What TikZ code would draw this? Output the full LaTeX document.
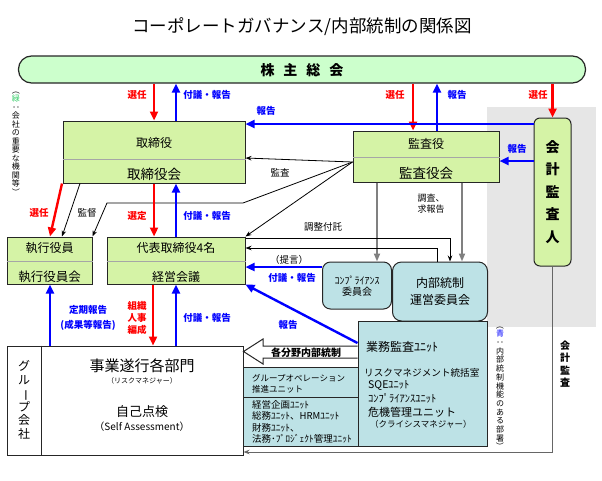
\documentclass[tikz,border=0pt]{standalone}
\usepackage{fontspec}
\setmainfont{Noto Sans CJK JP}
\usetikzlibrary{arrows.meta}

\definecolor{organgreen}{HTML}{D5F3A6}
\definecolor{meetinggreen}{HTML}{CCFFCC}
\definecolor{unitblue}{HTML}{BDE2E6}
\definecolor{bggray}{HTML}{E6E6E6}
\definecolor{reportblue}{HTML}{0000FF}
\definecolor{electred}{HTML}{FF0000}
\definecolor{notegreen}{HTML}{33CC66}

\newcommand{\vrot}[1]{\rotatebox[origin=c]{-90}{#1}}
\newcommand{\jpsize}[2]{\fontsize{#1}{#2}\selectfont}

\begin{document}
\begin{tikzpicture}[
    x=1pt, y=-1pt,
    organ/.style={draw=black!85, line width=1pt, fill=organgreen, inner sep=0pt},
    unitbox/.style={draw=black!85, line width=1pt, fill=unitblue, inner sep=0pt},
    divider/.style={draw=black!35, line width=0.6pt},
    txt/.style={inner sep=0pt},
    redarrow/.style={draw=electred, line width=2.4pt, -{Triangle[length=9pt,width=8pt]}},
    bluearrow/.style={draw=reportblue, line width=2.4pt, -{Triangle[length=9pt,width=8pt]}},
    grayarrow/.style={draw=black!50, line width=1.8pt, -{Triangle[length=8pt,width=6pt]}},
    thinarrow/.style={draw=black, line width=0.8pt, -{Stealth[length=6pt,width=4.5pt]}},
    redlabel/.style={txt, text=electred, font=\jpsize{9.5}{12}\bfseries},
    bluelabel/.style={txt, text=reportblue, font=\jpsize{9.5}{15}\bfseries},
    blacklabel/.style={txt, font=\jpsize{9.5}{11}}
  ]
  \useasboundingbox (0,0) rectangle (602,480);

  % background of the outside auditor
  \fill[bggray] (487,107) rectangle (596,327);

  \node[txt, font=\jpsize{17.5}{17.5}] (title) at (302,27) {コーポレートガバナンス/内部統制の関係図};

  % organs
  \node[organ, fill=meetinggreen, rounded corners=13pt, line width=1.2pt,
    minimum width=567pt, minimum height=27pt] (kabu) at (302,69.5) {};
  \node[txt, font=\jpsize{14}{14}\bfseries] (kabutext) at (302,70)
    {株\hspace{9pt}主\hspace{9pt}総\hspace{9pt}会};

  \node[organ, minimum width=182pt, minimum height=62pt] (tori) at (154,152) {};
  \draw[divider] (tori.west |- 0,159) -- (tori.east |- 0,159);
  \node[txt, font=\jpsize{12}{12}] (toritop) at (154,143) {取締役};
  \node[txt, font=\jpsize{13.5}{13.5}] (toribot) at (154,174) {取締役会};

  \node[organ, minimum width=146pt, minimum height=51pt] (kansa) at (426,156.5) {};
  \draw[divider] (kansa.west |- 0,157) -- (kansa.east |- 0,157);
  \node[txt, font=\jpsize{12}{12}] (kansatop) at (426,144) {監査役};
  \node[txt, font=\jpsize{13.5}{13.5}] (kansabot) at (426,173) {監査役会};

  \node[organ, rounded corners=6pt, minimum width=37pt, minimum height=148pt] (kaikei) at (552.5,192) {};
  \node[txt, font=\jpsize{14}{22.5}\bfseries, align=center] (kaikeitext) at (552.5,192)
    {会\\計\\監\\査\\人};

  \node[organ, minimum width=85pt, minimum height=47pt] (shikko) at (49.5,260.5) {};
  \draw[divider] (shikko.west |- 0,261) -- (shikko.east |- 0,261);
  \node[txt, font=\jpsize{12}{12}] (shikkotop) at (49.5,248) {執行役員};
  \node[txt, font=\jpsize{12.5}{12.5}] (shikkobot) at (49.5,277) {執行役員会};

  \node[organ, minimum width=138pt, minimum height=47pt] (daihyo) at (176,260.5) {};
  \draw[divider] (daihyo.west |- 0,261) -- (daihyo.east |- 0,261);
  \node[txt, font=\jpsize{12}{12}] (daihyotop) at (176,248) {代表取締役4名};
  \node[txt, font=\jpsize{12}{12}] (daihyobot) at (176,277) {経営会議};

  % committees and units
  \node[unitbox, rounded corners=8pt, minimum width=69pt, minimum height=47pt] (comp) at (357,285.5) {};
  \node[txt, font=\jpsize{10}{11}, align=center] (comptext) at (357,286.5) {ｺﾝﾌﾟﾗｲｱﾝｽ\\委員会};

  \node[unitbox, rounded corners=9pt, minimum width=95pt, minimum height=59pt] (naibu) at (440,291.5) {};
  \node[txt, font=\jpsize{12}{17}, align=center] (naibutext) at (440,291.5) {内部統制\\運営委員会};

  \node[unitbox, minimum width=129pt, minimum height=125pt] (gyomu) at (422.5,383.5) {};
  \node[txt, anchor=west, font=\jpsize{12}{12}] (gyomu1) at (366,347) {業務監査ﾕﾆｯﾄ};
  \node[txt, anchor=west, font=\jpsize{9.6}{9.6}] (gyomu2) at (364,373) {リスクマネジメント統括室};
  \node[txt, anchor=west, font=\jpsize{10.5}{10.5}] (gyomu3) at (368,385.5) {SQEﾕﾆｯﾄ};
  \node[txt, anchor=west, font=\jpsize{10.5}{10.5}] (gyomu4) at (368,398.5) {ｺﾝﾌﾟﾗｲｱﾝｽﾕﾆｯﾄ};
  \node[txt, anchor=west, font=\jpsize{11}{11}] (gyomu5) at (368,412) {危機管理ユニット};
  \node[txt, anchor=west, font=\jpsize{8.5}{8.5}] (gyomu6) at (370,424.5) {（クライシスマネジャー）};

  \node[unitbox, minimum width=115pt, minimum height=30pt] (groupop) at (300.5,382) {};
  \node[txt, anchor=west, font=\jpsize{8.5}{11}, align=left] (groupoptext) at (252,383.5)
    {グループオペレーション\\推進ユニット};

  \node[unitbox, minimum width=115pt, minimum height=49pt] (keiei) at (300.5,421.5) {};
  \node[txt, anchor=west, font=\jpsize{9.5}{11.3}, align=left] (keieitext) at (252,422)
    {経営企画ﾕﾆｯﾄ\\総務ﾕﾆｯﾄ、HRMﾕﾆｯﾄ\\財務ﾕﾆｯﾄ、\\法務･ﾌﾟﾛｼﾞｪｸﾄ管理ﾕﾆｯﾄ};

  % group companies
  \node[draw=black!85, line width=1pt, fill=white, minimum width=236pt, minimum height=109pt,
    inner sep=0pt] (group) at (125,400.5) {};
  \draw[black!85, line width=1pt] (group.north -| 41,0) -- (group.south -| 41,0);
  \node[txt, font=\jpsize{12}{13.5}, align=center] (grouptext) at (24,400)
    {グ\\ル\\\vrot{ー}\\プ\\会\\社};
  \node[txt, font=\jpsize{15}{15}] (bu1) at (142,366) {事業遂行各部門};
  \node[txt, font=\jpsize{7}{7}] (bu2) at (142,381) {（リスクマネジャー）};
  \node[txt, font=\jpsize{13}{13}] (bu3) at (142,412) {自己点検};
  \node[txt, font=\jpsize{10}{10}] (bu4) at (142,427) {（Self Assessment）};

  % internal control arrow
  \draw[draw=black!85, line width=1pt, fill=white] (gyomu.west |- 0,346) -- (263,346) -- (263,339)
    -- (group.east |- 0,351.5) -- (263,364) -- (263,358) -- (gyomu.west |- 0,358);
  \node[txt, font=\jpsize{10}{10}\bfseries] (kakubunya) at (306,352.5) {各分野内部統制};

  % notes
  \node[txt, font=\jpsize{8}{8.5}, align=center] (greennote) at (16,141)
    {\vrot{（}\\\textcolor{notegreen}{緑}\\\vrot{：}\\会\\社\\の\\重\\要\\な\\機\\関\\等\\\vrot{）}};
  \node[txt, font=\jpsize{8}{8.7}, align=center] (bluenote) at (500,386)
    {\vrot{（}\\\textcolor{reportblue}{青}\\\vrot{：}\\内\\部\\統\\制\\機\\能\\の\\あ\\る\\部\\署\\\vrot{）}};

  % shareholders meeting
  \draw[redarrow] (kabu.south -| 154,0) -- (tori.north -| 154,0);
  \draw[bluearrow] (tori.north -| 176,0) -- (kabu.south -| 176,0);
  \draw[redarrow] (kabu.south -| 413,0) -- (kansa.north -| 413,0);
  \draw[bluearrow] (kansa.north -| 437,0) -- (kabu.south -| 437,0);
  \draw[redarrow] (kabu.south -| kaikei.north) -- (kaikei.north);
  \node[redlabel] (l1) at (137,95) {選任};
  \node[bluelabel] (l2) at (207,95) {付議・報告};
  \node[redlabel] (l3) at (395,95) {選任};
  \node[bluelabel] (l4) at (457,95) {報告};
  \node[redlabel] (l5) at (538,95) {選任};

  % outside auditor
  \draw[bluearrow] (kaikei.west |- 0,124) -- (tori.east |- 0,124);
  \node[bluelabel] (l6) at (266,111) {報告};
  \draw[bluearrow] (kaikei.west |- 0,161) -- (kansa.east |- 0,161);
  \node[bluelabel] (l7) at (517,149) {報告};
  \draw[draw=black!60, line width=0.8pt, -{Stealth[length=6pt,width=4.5pt]}]
    (kaikei.south) -- (kaikei.south |- 0,452) -- (group.east |- 0,452);
  \node[txt, font=\jpsize{10}{12.5}\bfseries, align=center] (l8) at (565,364) {会\\計\\監\\査};

  % audit
  \coordinate (audit) at (kansa.west |- 0,162);
  \draw[thinarrow] (audit) -- (tori.east |- 0,158);
  \draw[thinarrow] (audit) -- (243,203) -- (107,203) -- (shikko.north east);
  \draw[thinarrow] (audit) -- (daihyo.north east);
  \node[blacklabel] (l9) at (280,173) {監査};
  \draw[grayarrow] (kansa.south -| 377,0) -- (comp.north -| 377,0);
  \draw[grayarrow] (kansa.south -| 462,0) -- (naibu.north -| 462,0);
  \node[txt, font=\jpsize{9}{11}, align=left] (l10) at (431,204) {調査、\\求報告};

  % board
  \draw[redarrow] (tori.south -| 62,0) -- (shikko.north -| 50,0);
  \draw[thinarrow] (tori.south -| 80,0) -- (shikko.north -| 62,0);
  \node[redlabel] (l11) at (39,213) {選任};
  \node[blacklabel] (l12) at (87,213) {監督};
  \draw[redarrow] (tori.south -| 154,0) -- (daihyo.north -| 154,0);
  \draw[bluearrow] (daihyo.north -| 176,0) -- (tori.south -| 176,0);
  \node[redlabel] (l13) at (137,216) {選定};
  \node[bluelabel] (l14) at (207,216) {付議・報告};

  % management meeting
  \draw[thinarrow] (daihyo.east |- 0,238) -- (450,238) -- (naibu.north -| 450,0);
  \node[blacklabel] (l15) at (323,227) {調整付託};
  \draw[thinarrow] (naibu.north -| 437,0) -- (437,248) -- (daihyo.east |- 0,248);
  \node[blacklabel] (l16) at (289,260) {（提言）};
  \draw[bluearrow] (comp.west |- 0,267) -- (daihyo.east |- 0,267);
  \node[bluelabel] (l17) at (292,278) {付議・報告};
  \draw[bluearrow] (gyomu.west |- 0,343) -- (daihyo.south east);
  \node[bluelabel] (l18) at (288,325) {報告};

  % business units
  \draw[bluearrow] (group.north -| 50,0) -- (shikko.south -| 50,0);
  \node[bluelabel, align=center] (l19) at (88,317.5) {定期報告\\(成果等報告)};
  \draw[redarrow] (daihyo.south -| 153,0) -- (group.north -| 153,0);
  \node[redlabel, align=center] (l20) at (137,318) {組織\\人事\\編成};
  \draw[bluearrow] (group.north -| 176,0) -- (daihyo.south -| 176,0);
  \node[bluelabel] (l21) at (207,318) {付議・報告};

\end{tikzpicture}
\end{document}
